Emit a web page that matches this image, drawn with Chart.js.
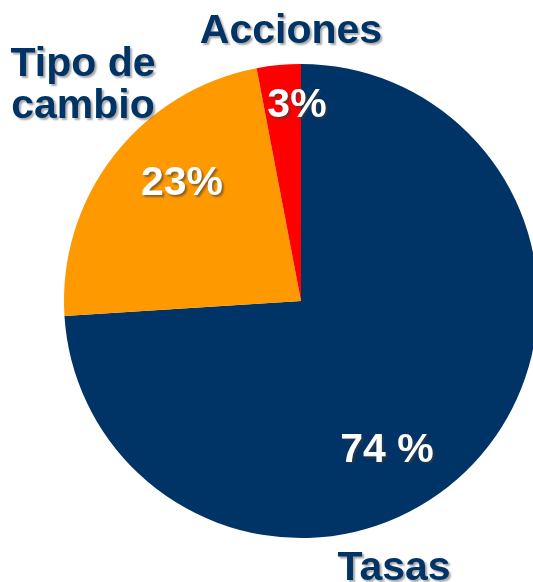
<!DOCTYPE html>
<html>
<head>
<meta charset="utf-8">
<title>Distribución</title>
<script src="https://cdn.jsdelivr.net/npm/chart.js@4"></script>
<style>
  html, body { margin: 0; padding: 0; overflow: hidden; background: #fff; }
  #wrap { width: 560px; height: 582px; }
</style>
</head>
<body>
<div id="wrap"><canvas id="pieChart" width="560" height="582"></canvas></div>
<script>
const categories = ['Tasas', 'Tipo de cambio', 'Acciones'];
const shares = [74, 23, 3];
const shareLabels = ['74 %', '23%', '3%'];
const sliceColors = ['#003366', '#FF9900', '#FF0000'];

// category names sit outside the pie, percentages inside each slice
const nameSpots = [
    { lines: ['Tasas'], x: 394, y: 580 },
    { lines: ['Tipo de', 'cambio'], x: 83, y: 76 },
    { lines: ['Acciones'], x: 291, y: 43 }
];
const shareSpots = [
    { x: 387, y: 462 },
    { x: 182, y: 195 },
    { x: 297, y: 117 }
];

const textPlugin = {
    id: 'sliceText',
    afterDatasetsDraw(chart) {
        const ctx = chart.ctx;
        ctx.save();
        ctx.font = 'bold 41px "Liberation Sans", Arial, sans-serif';
        ctx.textAlign = 'center';
        ctx.textBaseline = 'alphabetic';
        ctx.shadowOffsetX = 2;
        ctx.shadowOffsetY = 2;
        ctx.shadowBlur = 2;

        ctx.shadowColor = 'rgba(0,0,0,0.35)';
        ctx.fillStyle = '#003366';
        nameSpots.forEach(spot => {
            spot.lines.forEach((line, i) => ctx.fillText(line, spot.x, spot.y + i * 42));
        });

        ctx.shadowColor = 'rgba(60,60,60,0.6)';
        ctx.fillStyle = '#ffffff';
        shareLabels.forEach((txt, i) => ctx.fillText(txt, shareSpots[i].x, shareSpots[i].y));
        ctx.restore();
    }
};

new Chart(document.getElementById('pieChart').getContext('2d'), {
    type: 'pie',
    data: {
        labels: categories,
        datasets: [{
            data: shares,
            backgroundColor: sliceColors,
            borderWidth: 0
        }]
    },
    options: {
        responsive: false,
        animation: false,
        layout: { padding: { left: 64, right: 22, top: 64, bottom: 44 } },
        plugins: { legend: { display: false }, tooltip: { enabled: false } }
    },
    plugins: [textPlugin]
});
</script>
</body>
</html>
